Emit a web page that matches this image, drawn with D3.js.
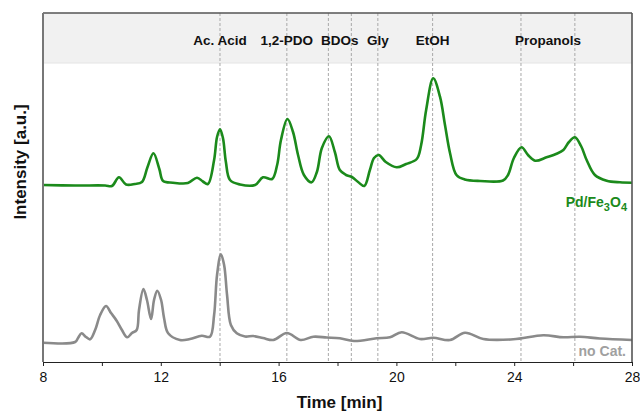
<!DOCTYPE html>
<html>
<head>
<meta http-equiv="Content-Type" content="text/html; charset=UTF-8">
<style>
body { margin: 0; background: #fff; }
svg { font-family: "Liberation Sans", Arial, sans-serif; }
.line { fill: none; stroke-width: 2.6px; stroke-linejoin: round; }
.marker { stroke: #a8a8a8; stroke-width: 1px; stroke-dasharray: 3,2; }
.axis path, .axis line { stroke: #222; }
.axis text { font-size: 14px; fill: #111; }
</style>
</head>
<body>
<svg width="640" height="412"></svg>
<script src="https://cdn.jsdelivr.net/npm/d3@7"></script>
<script>

// retention time (min) and intensity (a.u.)
var pdTime = [8.00, 9.09, 10.11, 10.34, 10.58, 10.82, 11.12, 11.36, 11.55, 11.75, 11.95, 12.08, 12.41, 12.92, 13.23, 13.43, 13.60,
  13.81, 13.91, 14.01, 14.11, 14.21, 14.35, 14.69, 15.20, 15.47, 15.78, 15.95, 16.08, 16.30, 16.49, 16.66, 16.86,
  17.12, 17.30, 17.47, 17.71, 17.91, 18.08, 18.29, 18.49, 18.70, 18.91, 19.10, 19.24, 19.40, 19.64, 20.01, 20.33,
  20.69, 20.84, 21.01, 21.25, 21.48, 21.65, 21.82, 22.04, 22.32, 22.84, 23.62, 23.79, 23.99, 24.25, 24.47, 24.71,
  25.10, 25.42, 25.67, 25.86, 26.06, 26.27, 26.46, 26.74, 27.14, 27.59, 28.00];
var pdSignal = [177, 176.5, 176.5, 176, 184.7, 177.5, 178, 180, 195, 208.7, 193, 181, 179.3, 179, 184.3, 180.5, 178,
  202, 225, 232.7, 224, 200, 182, 177.5, 177, 184.7, 183, 197, 222, 243, 230, 207, 187,
  179.7, 190, 214, 225.7, 210, 192, 187, 185, 180, 176, 192, 204, 207, 200, 194.7, 198,
  203, 217, 252, 283.7, 265.3, 237, 209, 187, 182.5, 181, 181.5, 187, 204, 214.7, 207, 201.3,
  204.7, 208, 212, 220, 224.7, 216, 202, 187, 181.3, 179.7, 179.3];

var noCatTime = [8.00, 9.09, 9.19, 9.31, 9.46, 9.60, 9.77, 9.94, 10.14, 10.31, 10.50, 10.68, 10.86, 11.02, 11.18, 11.26,
  11.41, 11.53, 11.67, 11.77, 11.88, 12.01, 12.11, 12.25, 12.65, 12.99, 13.39, 13.67, 13.81, 13.91, 14.04, 14.15,
  14.25, 14.38, 14.58, 14.86, 15.14, 15.47, 15.82, 16.28, 16.75, 17.18, 17.64, 18.08, 18.56, 19.33, 19.78, 20.18,
  20.80, 21.25, 21.82, 22.33, 22.95, 23.97, 24.99, 25.67, 26.23, 26.91, 28.00];
var noCatSignal = [19.3, 20, 24, 28.7, 25, 22.7, 32, 47, 56, 49, 41.3, 32, 24.7, 29, 32, 52,
  73, 62, 43, 62, 71.3, 62, 44, 28.7, 22, 23, 26.3, 25.3, 47, 87, 107.7, 97,
  67, 37, 28.7, 25.5, 26, 24, 22, 29, 22, 25.3, 24.5, 23.7, 21, 23.7, 24.7, 29.7,
  23, 24.3, 22, 29.3, 23, 22.7, 26.7, 24.7, 25.3, 23.5, 22];

// assigned products and their retention times
var productNames = ["Ac. Acid", "1,2-PDO", "BDOs", "Gly", "EtOH", "Propanols"];
var productTimes = [[14.01], [16.28], [17.69, 18.47], [19.37], [21.23], [24.23, 26.06]];

var xTicks = [8, 10, 12, 14, 16, 18, 20, 22, 24, 26, 28];

var svg = d3.select("svg"),
    margin = {top: 13, right: 8, bottom: 50, left: 43},
    width = +svg.attr("width") - margin.left - margin.right,
    height = +svg.attr("height") - margin.top - margin.bottom,
    g = svg.append("g").attr("transform", "translate(" + margin.left + "," + margin.top + ")");

var x = d3.scaleLinear().domain([8, 28]).range([0, width]);
var y = d3.scaleLinear().domain([0, 349]).range([height, 0]);

var bandH = 50;

g.append("rect")
    .attr("width", width).attr("height", bandH)
    .attr("fill", "#f1f1f1");
g.append("line")
    .attr("x1", 0).attr("x2", width).attr("y1", bandH).attr("y2", bandH)
    .attr("stroke", "#e4e4e4");

// dashed markers
var allTimes = [];
productTimes.forEach(function(ts) { ts.forEach(function(t) { allTimes.push(t); }); });
g.selectAll(".marker").data(allTimes).enter().append("line")
    .attr("class", "marker")
    .attr("x1", function(d) { return x(d); }).attr("x2", function(d) { return x(d); })
    .attr("y1", 0).attr("y2", height);

g.selectAll(".prod").data(productNames).enter().append("text")
    .attr("class", "prod")
    .attr("x", function(d, i) { return x(d3.mean(productTimes[i])); })
    .attr("y", 32)
    .attr("text-anchor", "middle")
    .style("font-size", "13.5px").style("font-weight", "bold").style("fill", "#111")
    .text(function(d) { return d; });

var line = d3.line()
    .x(function(d) { return x(d[0]); })
    .y(function(d) { return y(d[1]); })
    .curve(d3.curveCatmullRom.alpha(0.5));

g.append("path")
    .datum(d3.zip(noCatTime, noCatSignal))
    .attr("class", "line")
    .attr("stroke", "#8a8a8a")
    .attr("d", line);

g.append("path")
    .datum(d3.zip(pdTime, pdSignal))
    .attr("class", "line")
    .attr("stroke", "#1b8a1b")
    .attr("d", line);

// frame
g.append("line").attr("x1", 0).attr("x2", width).attr("y1", 0).attr("y2", 0)
    .attr("stroke", "#555").attr("stroke-width", 1.6);
g.append("line").attr("x1", width).attr("x2", width).attr("y1", 0).attr("y2", height)
    .attr("stroke", "#555").attr("stroke-width", 1.6);
g.append("line").attr("x1", 0).attr("x2", 0).attr("y1", 0).attr("y2", height)
    .attr("stroke", "#777").attr("stroke-width", 2);

g.append("g")
    .attr("class", "axis")
    .attr("transform", "translate(0," + height + ")")
    .call(d3.axisBottom(x).tickValues(xTicks).tickSize(4).tickSizeOuter(0)
      .tickFormat(function(d) { return d % 4 === 0 ? d : ""; }))
    .call(function(a) { a.selectAll("text").attr("dy", "0.95em"); });

// series labels
var pdLabel = g.append("text")
    .attr("x", width - 5).attr("y", y(362 - 207))
    .attr("text-anchor", "end")
    .style("font-size", "14px").style("font-weight", "bold").style("fill", "#1b8a1b");
pdLabel.append("tspan").text("Pd/Fe");
pdLabel.append("tspan").attr("dy", 4).style("font-size", "11px").text("3");
pdLabel.append("tspan").attr("dy", -4).text("O");
pdLabel.append("tspan").attr("dy", 4).style("font-size", "11px").text("4");

g.append("text")
    .attr("x", width - 6).attr("y", y(362 - 355.5))
    .attr("text-anchor", "end")
    .style("font-size", "14px").style("font-weight", "bold").style("fill", "#a0a0a0")
    .text("no Cat.");

// axis titles
svg.append("text")
    .attr("x", margin.left + width / 2 + 2).attr("y", 408)
    .attr("text-anchor", "middle")
    .style("font-size", "17px").style("font-weight", "bold").style("fill", "#111")
    .text("Time [min]");

svg.append("text")
    .attr("transform", "translate(26,162) rotate(-90)")
    .attr("text-anchor", "middle")
    .style("font-size", "17px").style("font-weight", "bold").style("fill", "#111")
    .text("Intensity [a.u.]");

</script>
</body></html>
